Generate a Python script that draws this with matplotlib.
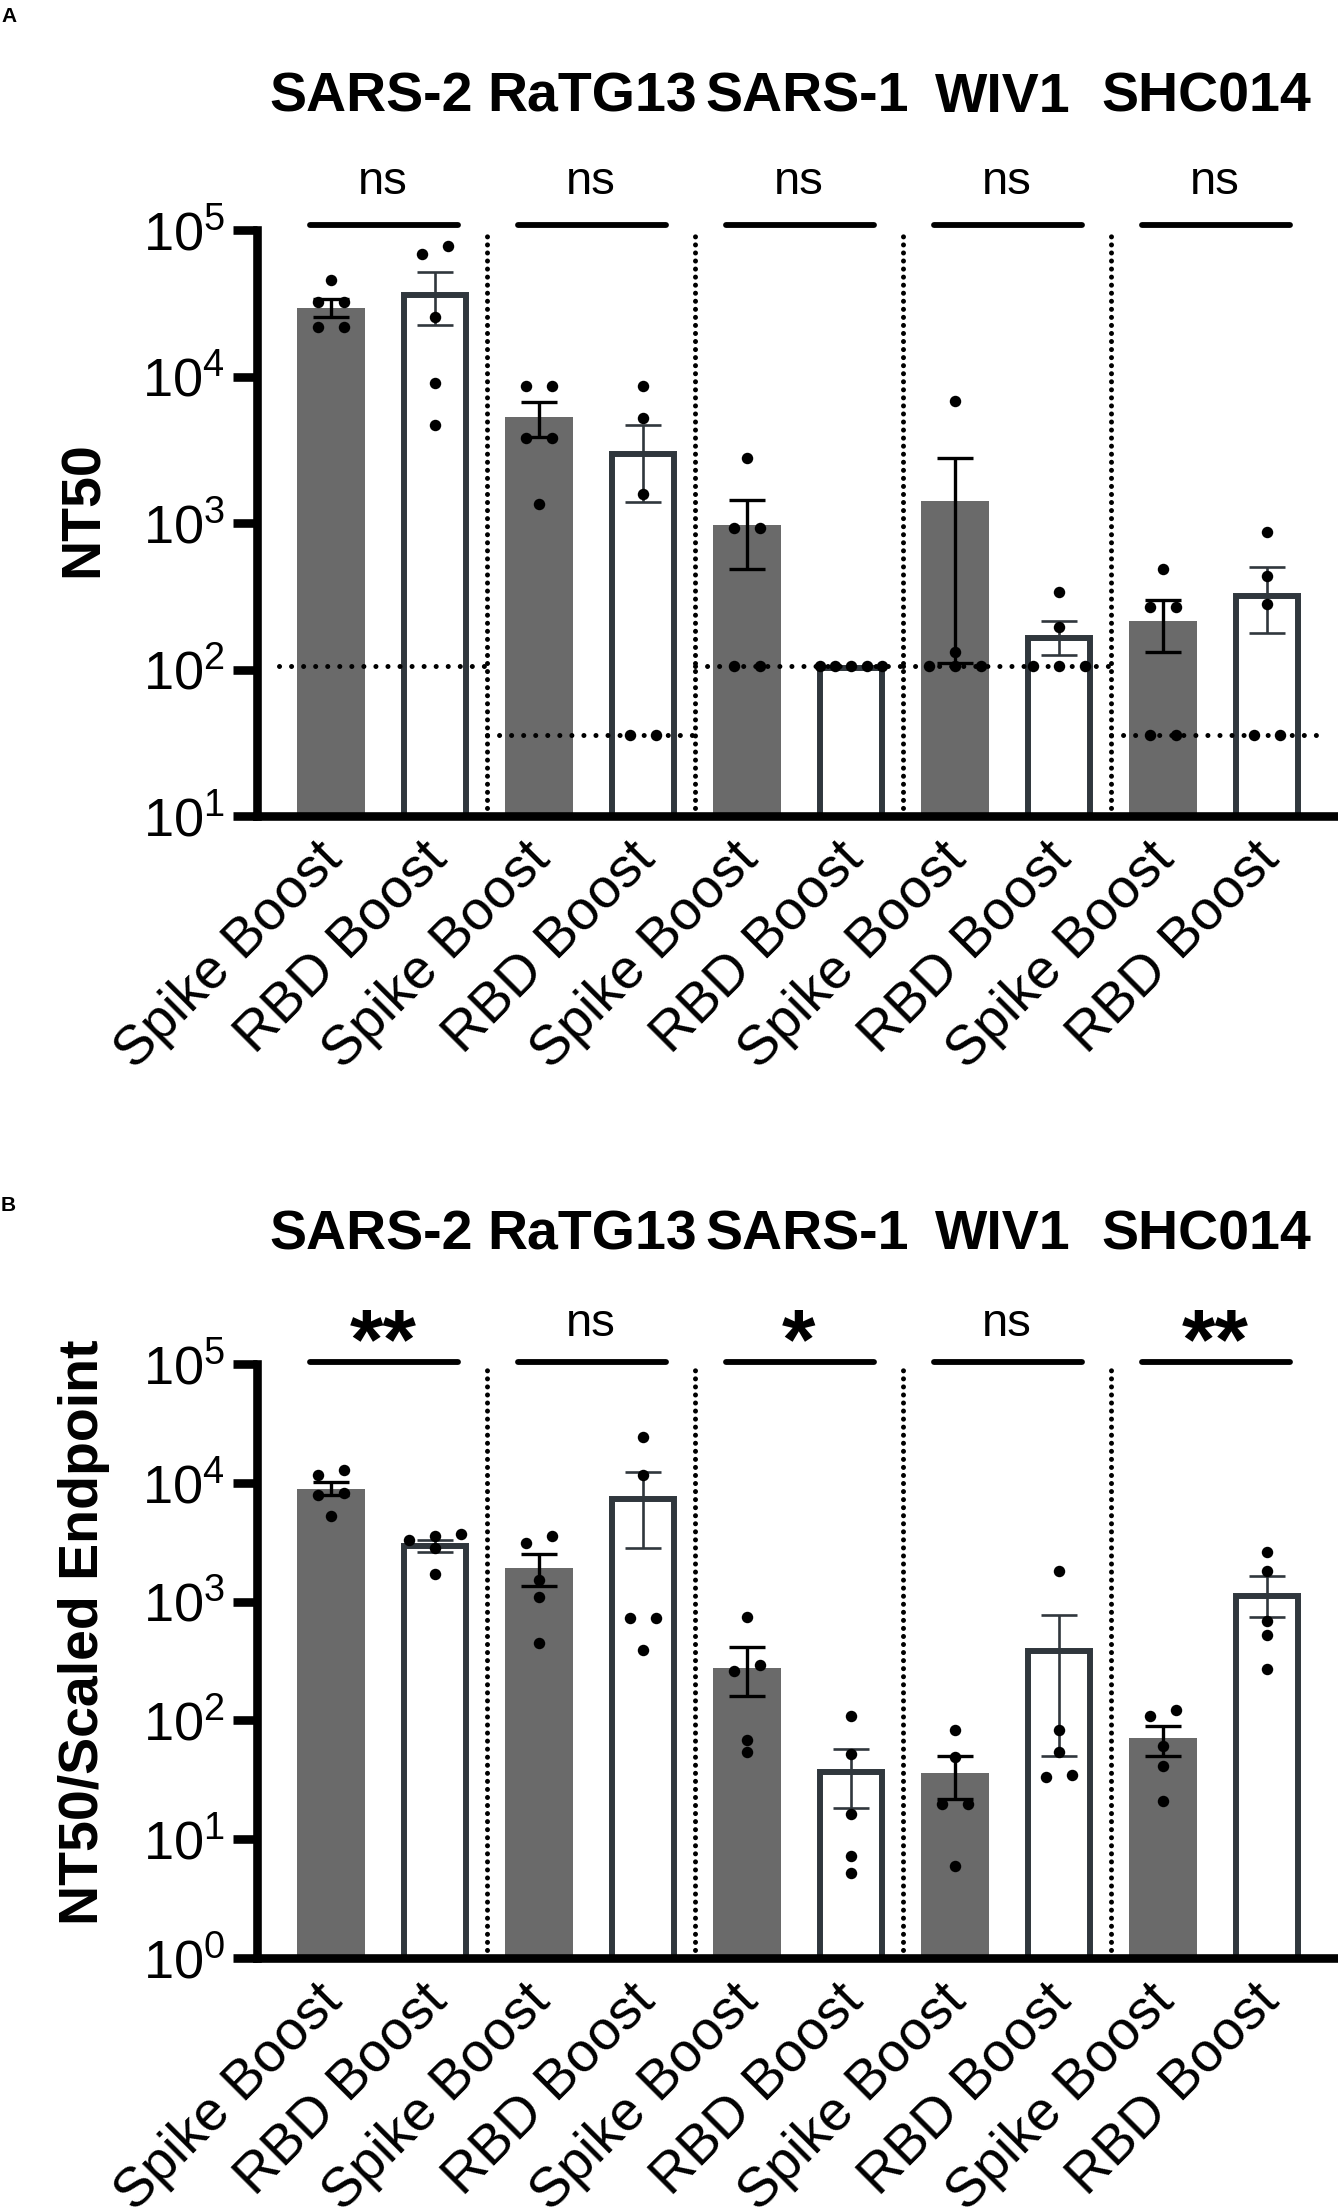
import numpy as np
import matplotlib
matplotlib.use('Agg')
import matplotlib.pyplot as plt
import matplotlib.transforms as mtransforms
from matplotlib.ticker import FixedLocator, NullLocator, FuncFormatter

plt.rcParams['font.family'] = ['Liberation Sans', 'DejaVu Sans']
plt.rcParams['mathtext.fontset'] = 'custom'
plt.rcParams['mathtext.rm'] = 'Liberation Sans'

viruses = ['SARS-2', 'RaTG13', 'SARS-1', 'WIV1', 'SHC014']
boosts = ['Spike Boost', 'RBD Boost']

# panel A: NT50 (bar value, SEM low, SEM high, individual animals)
a_mean = [29500, 36000, 5250, 2960, 962, 102, 1413, 164, 213, 318]
a_low = [25400, 22300, 3880, 1400, 486, 102, 111, 126, 131, 178]
a_high = [34000, 51600, 6690, 4700, 1435, 102, 2770, 213, 300, 498]
a_points = [
    [45800, 32000, 32000, 21800, 21800],
    [77300, 69000, 25400, 9080, 4670],
    [8610, 8610, 3820, 3820, 1350],
    [8610, 5170, 1580, 35.5, 35.5],
    [2770, 925, 925, 106, 106],
    [106, 106, 106, 106, 106],
    [6850, 131, 106, 106, 106],
    [339, 196, 106, 106, 106],
    [486, 267, 267, 35.5, 35.5],
    [867, 438, 282, 35.5, 35.5],
]
a_sig = ['ns', 'ns', 'ns', 'ns', 'ns']
a_lod = [106, 35.5, 106, 106, 35.5]

# panel B: NT50 / scaled endpoint
b_mean = [8900, 2940, 1900, 7240, 277, 36.5, 35.8, 384, 70.5, 1122]
b_low = [7870, 2630, 1360, 2850, 162, 18.3, 22.0, 50.6, 50.6, 741]
b_high = [10100, 3330, 2520, 12400, 416, 57.7, 50.6, 764, 88.9, 1633]
b_points = [
    [12800, 11600, 8270, 7880, 5250],
    [3560, 3680, 3330, 2800, 1720],
    [3570, 3100, 1520, 1090, 451],
    [24500, 11600, 728, 728, 395],
    [741, 259, 292, 68, 54],
    [109, 52, 16.2, 7.2, 5.2],
    [83.8, 49.5, 19.9, 19.9, 6.0],
    [1810, 83.8, 53.7, 33.7, 35.0],
    [123, 109, 60.6, 41.2, 20.9],
    [2630, 1810, 690, 520, 269],
]
b_sig = ['**', 'ns', '*', 'ns', '**']

# layout: small horizontal nudges of the virus titles (in bar units)
title_shift = [-0.11, 0.01, 0.08, -0.04, -0.08]

GREY = '#6a6a6a'
EDGE = '#30373d'
W, H = 1338, 2210


def spread(vals, thr=0.07, step=0.25, maxw=0.6):
    v = np.log10(vals)
    order = np.argsort(v)
    offs = np.zeros(len(vals))
    clusters, cur = [], [order[0]]
    for i in order[1:]:
        if v[i] - v[cur[-1]] < thr:
            cur.append(i)
        else:
            clusters.append(cur)
            cur = [i]
    clusters.append(cur)
    for c in clusters:
        n = len(c)
        if n > 1:
            s = min(step, maxw / (n - 1))
            for k, i in enumerate(c):
                offs[i] = (k - (n - 1) / 2) * s
    return offs


def draw_panel(ax, means, lows, highs, points, sigs, ymin, title_y, sig_y, text_y, star_y, lods=None):
    x = np.arange(len(means))
    ax.set_yscale('log')
    ax.set_xlim(-0.712, 9.683)
    ax.set_ylim(ymin, 1e5)

    for i in x:
        if i % 2 == 0:
            ax.bar(i, means[i] - ymin, bottom=ymin, width=0.66, color=GREY, zorder=2)
            ecol, elw = 'black', 2.4
        else:
            ax.bar(i, means[i] - ymin, bottom=ymin, width=0.59, color='white',
                   edgecolor=EDGE, linewidth=4.3, zorder=2)
            ecol, elw = EDGE, 1.9
        if highs[i] > lows[i]:
            ax.errorbar(i, means[i], yerr=[[means[i] - lows[i]], [highs[i] - means[i]]],
                        fmt='none', ecolor=ecol, elinewidth=elw, capsize=13,
                        capthick=elw, zorder=3)
        pts = np.array(points[i], dtype=float)
        ax.scatter(i + spread(pts), pts, s=68, color='black', zorder=5, linewidths=0)

    for sep in [1.5, 3.5, 5.5, 7.5]:
        ax.plot([sep, sep], [ymin, 1e5], color='black', lw=3.6,
                linestyle=(0, (0.01, 1.6)), dash_capstyle='round', zorder=1)

    if lods is not None:
        for g, lod in enumerate(lods):
            ax.plot([2 * g - 0.5, 2 * g + 1.5], [lod, lod], color='black', lw=3.6,
                    linestyle=(0, (0.01, 2.4)), dash_capstyle='round', zorder=4)

    blend = mtransforms.blended_transform_factory(ax.transData, ax.transAxes)
    for g, name in enumerate(viruses):
        c = 2 * g + 0.5
        ax.text(c + title_shift[g], title_y, name, transform=blend, ha='center',
                va='baseline', fontsize=40, fontweight='bold')
        ax.plot([2 * g - 0.2, 2 * g + 1.22], [sig_y, sig_y], transform=blend,
                color='black', lw=4.2, solid_capstyle='round', clip_on=False)
        if sigs[g] == 'ns':
            ax.text(c, text_y, 'ns', transform=blend, ha='center', va='baseline',
                    fontsize=34)
        else:
            ax.text(c, star_y, sigs[g], transform=blend, ha='center', va='baseline',
                    fontsize=62, fontweight='bold')

    for side in ['top', 'right']:
        ax.spines[side].set_visible(False)
    for side in ['left', 'bottom']:
        ax.spines[side].set_linewidth(6.2)
    ax.yaxis.set_major_locator(FixedLocator([10.0 ** k for k in range(int(np.log10(ymin)), 6)]))
    ax.yaxis.set_minor_locator(NullLocator())
    ax.yaxis.set_major_formatter(FuncFormatter(
        lambda v, p: r'$\mathregular{10^{%d}}$' % round(np.log10(v))))
    ax.tick_params(axis='y', length=17, width=6.2, pad=6, labelsize=39)
    ax.set_xticks(x)
    ax.set_xticklabels(boosts * 5, rotation=45, ha='right', va='top',
                       rotation_mode='anchor', fontsize=40)
    ax.tick_params(axis='x', length=0, pad=12)
    shift = mtransforms.ScaledTranslation(-0.15, 0, ax.figure.dpi_scale_trans)
    for lab in ax.get_xticklabels():
        lab.set_transform(lab.get_transform() + shift)


fig = plt.figure(figsize=(W / 100, H / 100), dpi=100)
axA = fig.add_axes([257 / W, 1 - 816 / H, 1 - 257 / W, (816 - 230) / H])
axB = fig.add_axes([257 / W, 1 - 1958 / H, 1 - 257 / W, (1958 - 1364) / H])

draw_panel(axA, a_mean, a_low, a_high, a_points, a_sig, 10,
           title_y=1.2014, sig_y=1.009, text_y=1.0614, star_y=1.0, lods=a_lod)
draw_panel(axB, b_mean, b_low, b_high, b_points, b_sig, 1,
           title_y=1.1936, sig_y=1.004, text_y=1.047, star_y=0.993)

fig.text(84 / W, 1 - 509 / H, 'NT50', rotation=90, ha='center', va='center',
         fontsize=40, fontweight='bold')
fig.text(84 / W, 1 - 1632 / H, 'NT50/Scaled Endpoint', rotation=90, ha='center',
         va='center', fontsize=40, fontweight='bold')
fig.text(1 / W, 1 - 7 / H, 'A', ha='left', va='top', fontsize=15, fontweight='bold')
fig.text(1 / W, 1 - 1196 / H, 'B', ha='left', va='top', fontsize=15, fontweight='bold')

fig.savefig('out.png', dpi=100)
